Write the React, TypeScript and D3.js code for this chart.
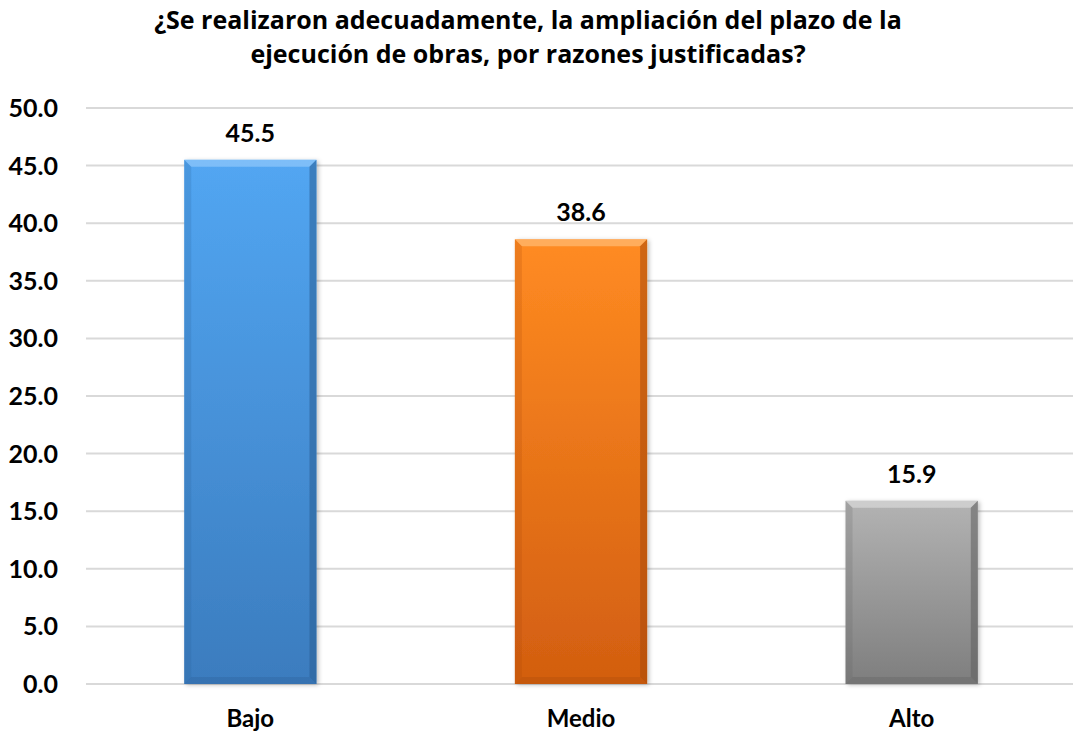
import React from "react";
import * as d3 from "d3";

const categories = ["Bajo", "Medio", "Alto"];
const values = [45.5, 38.6, 15.9];
const yTicks = [0, 5, 10, 15, 20, 25, 30, 35, 40, 45, 50];
const titleLines = [
  "¿Se realizaron adecuadamente, la ampliación del plazo de la",
  "ejecución de obras, por razones justificadas?",
];
const barColors = [
  { top: "#52A6F2", bottom: "#3B7CBE", light: "#8CC6FA", dark: "#2A5E94" },
  { top: "#FF8B22", bottom: "#D25E10", light: "#FFB870", dark: "#A8480A" },
  { top: "#B3B3B3", bottom: "#7E7E7E", light: "#D6D6D6", dark: "#5E5E5E" },
];

const W = 1073;
const H = 733;
const FONT = "Lato, 'Open Sans', sans-serif";
const TITLE_FONT = "'Open Sans', Lato, sans-serif";

export default function App() {
  const x = d3.scaleBand<string>().domain(categories).range([85, 1077]).padding(0);
  const y = d3.scaleLinear().domain([0, 50]).range([684, 108]);
  const barW = x.bandwidth() * 0.4;
  const bev = 7;

  return (
    <svg width={W} height={H} style={{ position: "absolute", left: 0, top: 0, background: "#fff" }}>
      <defs>
        {barColors.map((c, i) => (
          <linearGradient key={i} id={`g${i}`} x1="0" y1="0" x2="0" y2="1">
            <stop offset="0%" stopColor={c.top} />
            <stop offset="100%" stopColor={c.bottom} />
          </linearGradient>
        ))}
        <filter id="sh" x="-10%" y="-10%" width="130%" height="120%">
          <feDropShadow dx="2" dy="1" stdDeviation="2" floodColor="#000" floodOpacity="0.25" />
        </filter>
      </defs>
      <g>
        {titleLines.map((t, i) => (
          <text
            key={i}
            x={528}
            y={29 + i * 34}
            textAnchor="middle"
            fontFamily={TITLE_FONT}
            fontWeight="bold"
            fontSize={25}
            fill="#000"
          >
            {t}
          </text>
        ))}
      </g>
      <g>
        {yTicks.map((t) => (
          <g key={t}>
            <line x1={86} x2={1077} y1={y(t)} y2={y(t)} stroke="#D9D9D9" strokeWidth={2} />
            <text
              x={58}
              y={y(t)}
              dy="0.36em"
              textAnchor="end"
              fontFamily={FONT}
              fontWeight="bold"
              fontSize={25}
              fill="#000"
            >
              {t.toFixed(1)}
            </text>
          </g>
        ))}
      </g>
      <g>
        {categories.map((c, i) => {
          const cx = (x(c) as number) + x.bandwidth() / 2;
          const x0 = cx - barW / 2;
          const x1 = cx + barW / 2;
          const y0 = y(values[i]);
          const y1 = y(0);
          const col = barColors[i];
          return (
            <g key={c}>
              <rect x={x0} y={y0} width={barW} height={y1 - y0} fill={`url(#g${i})`} filter="url(#sh)" />
              <polygon
                points={`${x0},${y0} ${x1},${y0} ${x1 - bev},${y0 + bev} ${x0 + bev},${y0 + bev}`}
                fill={col.light}
                opacity={0.75}
              />
              <polygon
                points={`${x1},${y0} ${x1},${y1} ${x1 - bev},${y1 - bev} ${x1 - bev},${y0 + bev}`}
                fill={col.dark}
                opacity={0.55}
              />
              <polygon
                points={`${x0},${y0} ${x0 + bev},${y0 + bev} ${x0 + bev},${y1 - bev} ${x0},${y1}`}
                fill={col.dark}
                opacity={0.2}
              />
              <polygon
                points={`${x0},${y1} ${x0 + bev},${y1 - bev} ${x1 - bev},${y1 - bev} ${x1},${y1}`}
                fill={col.dark}
                opacity={0.3}
              />
              <text
                x={cx}
                y={y0 - 18}
                textAnchor="middle"
                fontFamily={FONT}
                fontWeight="bold"
                fontSize={25}
                fill="#000"
              >
                {values[i].toFixed(1)}
              </text>
              <text
                x={cx}
                y={727}
                textAnchor="middle"
                fontFamily={FONT}
                fontWeight="bold"
                fontSize={24}
                fill="#000"
              >
                {c}
              </text>
            </g>
          );
        })}
      </g>
    </svg>
  );
}
